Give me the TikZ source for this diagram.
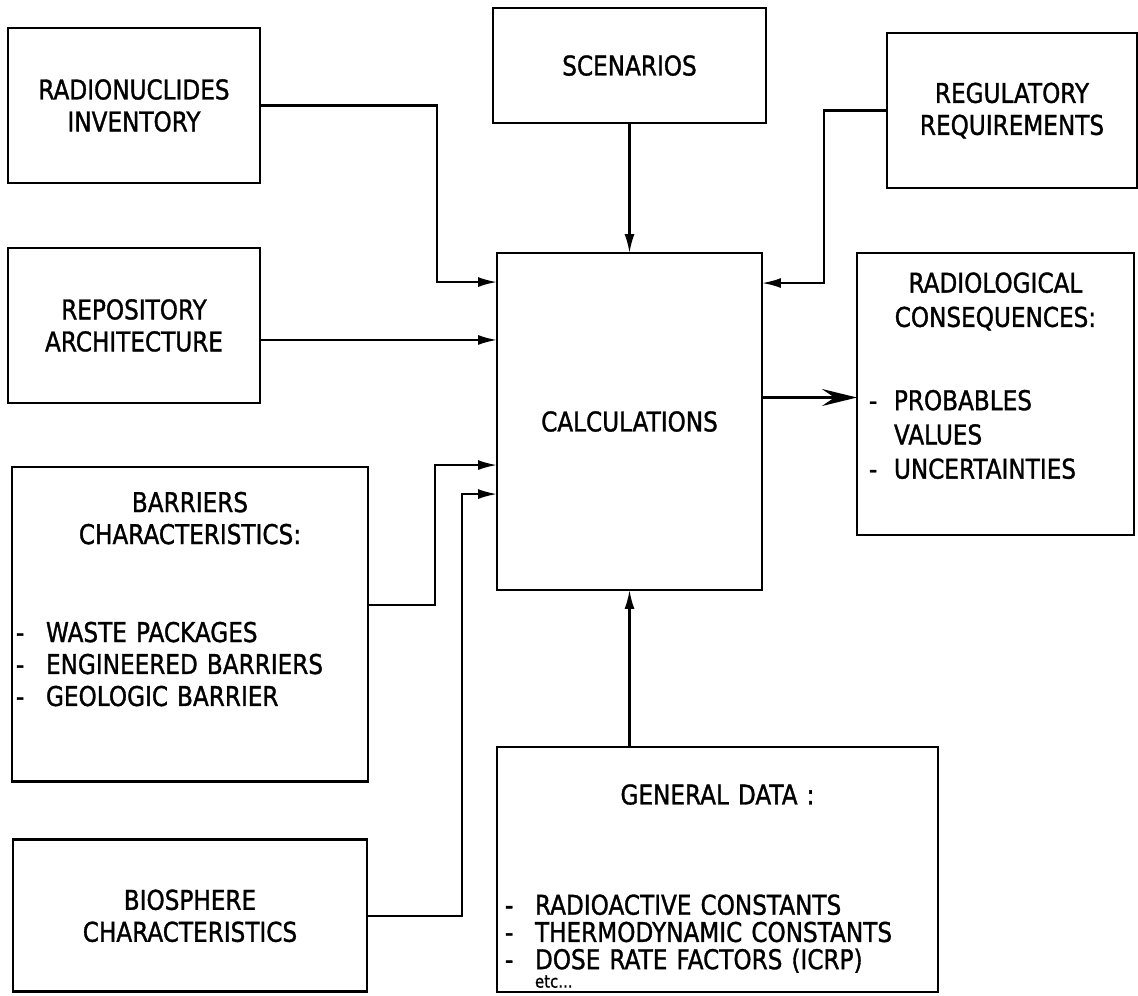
\documentclass[tikz,border=0pt]{standalone}
\usepackage{fontspec}
\setmainfont{DejaVu Sans}[FakeStretch=0.85, FakeBold=1.2]
\usetikzlibrary{arrows.meta,positioning,calc}
\newcommand{\itm}[1][0.6cm]{\makebox[#1][l]{-}}

\begin{document}
\begin{tikzpicture}[x=0.02cm, y=-0.02cm,
  font=\fontsize{15.5}{18.2}\selectfont, node distance=1.3cm and 1.9cm,
  box/.style={draw, line width=1.6pt, inner sep=0pt, outer sep=0pt, align=center},
  lbox/.style={box, align=left},
  arr/.style={line width=1.2pt, -{Latex[length=0.38cm,width=0.2cm]}},
  result/.style={line width=1.6pt, -{Stealth[length=0.7cm,width=0.34cm,inset=0.25cm]}}]
  \useasboundingbox (0,0) rectangle (1138,995);
  \node[box, minimum width=5.3cm, minimum height=6.74cm] (calc) at (629.5,421.5) {CALCULATIONS};
  \node[box, minimum width=5.46cm, minimum height=2.3cm, above=2.6cm of calc] (scen) {SCENARIOS};
  \node[box, minimum width=5.04cm, minimum height=3.1cm] (radio) at (134,105.5) {RADIONUCLIDES\\INVENTORY};
  \node[box, minimum width=5.04cm, minimum height=3.1cm, below=of radio] (repo) {REPOSITORY\\ARCHITECTURE};
  \node[lbox, minimum width=7.12cm, minimum height=6.3cm, text width=6.96cm,
    below=1.28cm of repo.south west, anchor=north west, xshift=0.08cm] (barr)
    {{\centering BARRIERS\\CHARACTERISTICS:\par}\vspace{1.32cm}\itm WASTE PACKAGES\\\itm ENGINEERED BARRIERS\\\itm GEOLOGIC BARRIER\rule[-1.02cm]{0pt}{0pt}};
  \node[box, minimum width=7.08cm, minimum height=3.04cm, below=1.16cm of barr] (bio) {BIOSPHERE\\CHARACTERISTICS};
  \node[box, minimum width=5cm, minimum height=3.1cm] (reg) at (1012,110.5) {REGULATORY\\REQUIREMENTS};
  \node[lbox, minimum width=5.54cm, minimum height=5.64cm, text width=5.06cm,
    font=\fontsize{15.5}{19.5}\selectfont, right=1.9cm of calc.north east, anchor=north west] (rad)
    {{\centering RADIOLOGICAL\\CONSEQUENCES:\par}\vspace{0.98cm}\itm[0.5cm]PROBABLES\\\makebox[0.5cm]{}VALUES\\\itm[0.5cm]UNCERTAINTIES\rule[-0.74cm]{0pt}{0pt}};
  \node[lbox, minimum width=8.82cm, minimum height=4.9cm, text width=8.5cm,
    font=\fontsize{15.5}{15.5}\selectfont, below=3.14cm of calc, xshift=1.76cm] (gen)
    {{\centering\rule{0pt}{1.07cm}GENERAL DATA :\par}\vspace{1.66cm}\itm RADIOACTIVE CONSTANTS\\\itm THERMODYNAMIC CONSTANTS\\\itm DOSE RATE FACTORS (ICRP)\\[-5pt]\makebox[0.6cm]{}{\fontsize{10}{10}\selectfont etc...}};
  \draw[arr] (radio.east) -| ($(calc.north west)+(-60,29)$) -- ($(calc.north west)+(0,29)$);
  \draw[arr] ($(repo.east)+(0,14.5)$) coordinate (r1) -- (r1 -| calc.west);
  \draw[arr] ($(barr.east)+(0,-19.5)$) -| ($(calc.north west)+(-62,212)$) -- ($(calc.north west)+(0,212)$);
  \draw[arr] (bio.east) -| ($(calc.north west)+(-35,241)$) -- ($(calc.north west)+(0,241)$);
  \draw[arr] (scen.south) -- (calc.north);
  \draw[arr] (reg.west) -| ($(calc.north east)+(62,30)$) -- ($(calc.north east)+(0,30)$);
  \draw[result] ($(calc.east)+(0,-24)$) coordinate (c1) -- (c1 -| rad.west);
  \draw[arr] (gen.north -| calc.south) -- (calc.south);
\end{tikzpicture}
\end{document}
